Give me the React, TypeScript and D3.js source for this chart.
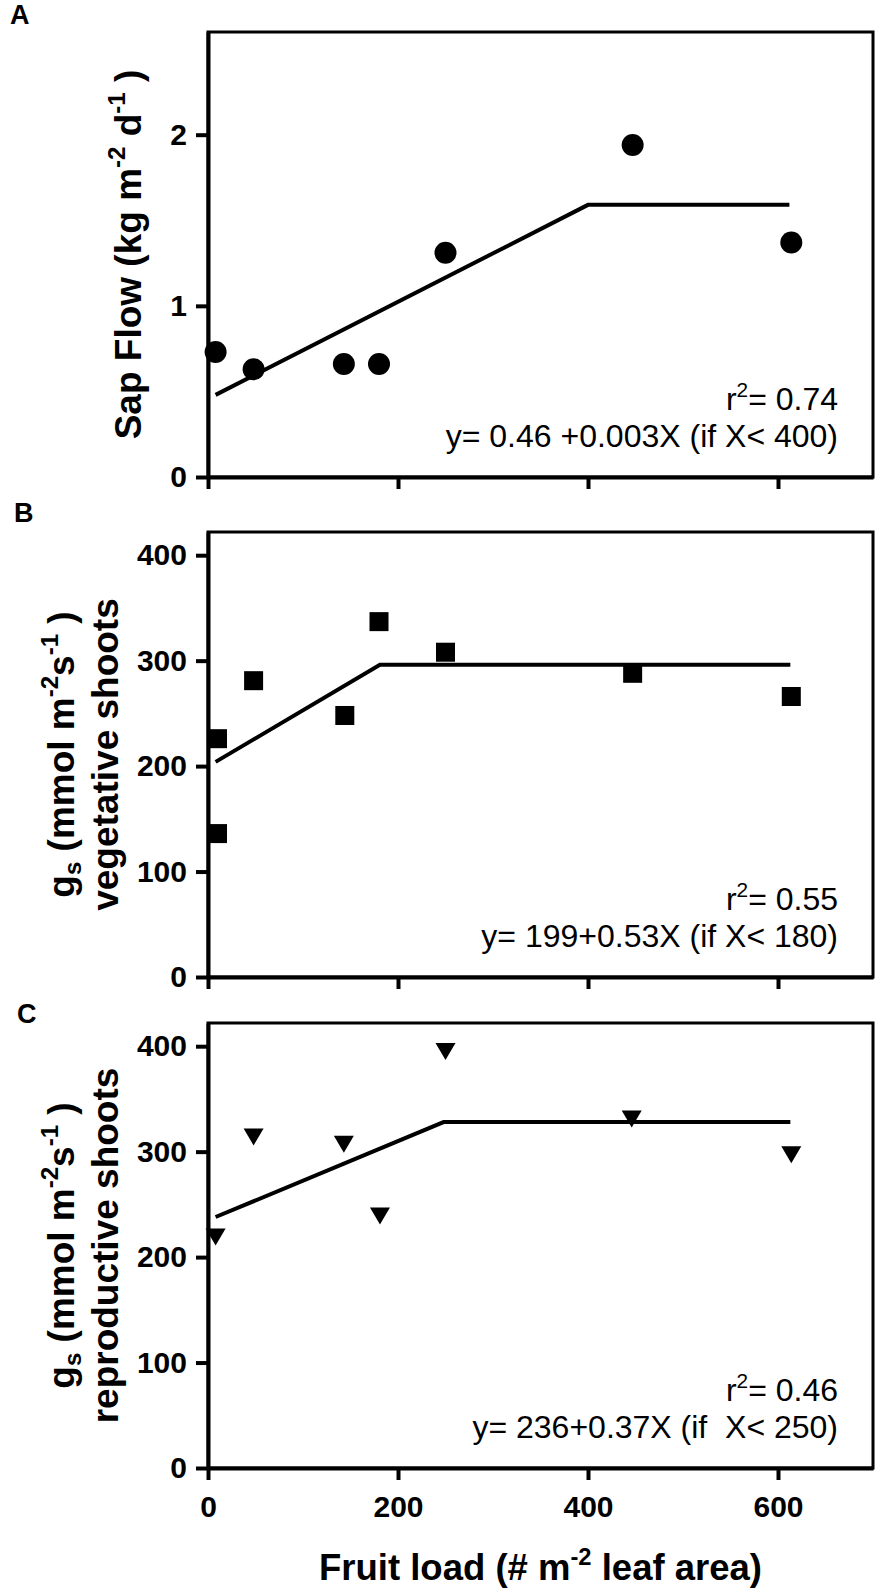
import { useEffect, useRef } from 'react';
import * as d3 from 'd3';

// Panel A: sap flow vs fruit load
const fruitLoadA = [8, 48, 143, 180, 250, 447, 614];
const sapFlow = [0.73, 0.63, 0.66, 0.66, 1.31, 1.94, 1.37];

// Panel B: gs of vegetative shoots
const fruitLoadB = [10, 10, 48, 144, 180, 250, 447, 614];
const gsVegetative = [226, 136, 281, 248, 337, 308, 288, 266];

// Panel C: gs of reproductive shoots
const fruitLoadC = [8, 48, 143, 181, 250, 446, 614];
const gsReproductive = [219, 314, 307, 239, 395, 331, 297];

// segmented fits (start, breakpoint, end)
const fitXA = [8, 400, 612];
const fitYA = [0.48, 1.59, 1.59];
const fitXB = [8, 181, 613];
const fitYB = [204, 296, 296];
const fitXC = [8, 248, 613];
const fitYC = [238, 328, 328];

const xTicks = [0, 200, 400, 600];
const sapTicks = [0, 1, 2];
const gsTicks = [0, 100, 200, 300, 400];

const r2Labels = ['0.74', '0.55', '0.46'];
const equations = [
  'y= 0.46 +0.003X (if X< 400)',
  'y= 199+0.53X (if X< 180)',
  'y= 236+0.37X (if  X< 250)',
];
const panelLetters = ['A', 'B', 'C'];

type Part = [string, number]; // 0 normal, 1 superscript, -1 subscript

const FONT = 'Liberation Sans, Arial, Helvetica, sans-serif';

function rich(sel: any, parts: Part[], size: number) {
  let shift = 0;
  parts.forEach(([t, k]) => {
    const target = k === 1 ? -size * 0.42 : k === -1 ? size * 0.2 : 0;
    sel
      .append('tspan')
      .attr('dy', target - shift)
      .attr('font-size', k ? size * 0.65 : size)
      .text(t);
    shift = target;
  });
}

const App = () => {
  const ref = useRef<SVGSVGElement>(null);

  useEffect(() => {
    const svg = d3.select(ref.current);
    svg.selectAll('*').remove();

    const left = 208;
    const right = 873;
    const x = d3.scaleLinear().domain([0, 700]).range([left, right]);

    const panels = [
      {
        top: 32, bottom: 477, yMax: 2.6, ticks: sapTicks,
        xs: fruitLoadA, ys: sapFlow, fx: fitXA, fy: fitYA, marker: 'circle',
        letterPos: [10, 24],
        title: [[['Sap Flow (kg m', 0], ['-2', 1], [' d', 0], ['-1', 1], [' )', 0]]] as Part[][],
        titleX: [141],
      },
      {
        top: 532, bottom: 977, yMax: 422, ticks: gsTicks,
        xs: fruitLoadB, ys: gsVegetative, fx: fitXB, fy: fitYB, marker: 'square',
        letterPos: [14, 522],
        title: [
          [['g', 0], ['s', -1], [' (mmol m', 0], ['-2', 1], ['s', 0], ['-1', 1], [' )', 0]],
          [['vegetative shoots', 0]],
        ] as Part[][],
        titleX: [74, 118],
      },
      {
        top: 1023, bottom: 1468, yMax: 422, ticks: gsTicks,
        xs: fruitLoadC, ys: gsReproductive, fx: fitXC, fy: fitYC, marker: 'triangle',
        letterPos: [17, 1023],
        title: [
          [['g', 0], ['s', -1], [' (mmol m', 0], ['-2', 1], ['s', 0], ['-1', 1], [' )', 0]],
          [['reproductive shoots', 0]],
        ] as Part[][],
        titleX: [74, 118],
      },
    ];

    panels.forEach((p, i) => {
      const y = d3.scaleLinear().domain([0, p.yMax]).range([p.bottom, p.top]);
      const g = svg.append('g');

      // frame (top and right sides)
      g.append('rect')
        .attr('x', left)
        .attr('y', p.top)
        .attr('width', right - left)
        .attr('height', p.bottom - p.top)
        .attr('fill', 'none')
        .attr('stroke', '#000')
        .attr('stroke-width', 3);

      // y axis
      const ya = g
        .append('g')
        .attr('transform', `translate(${left},0)`)
        .call(
          d3.axisLeft(y).tickValues(p.ticks).tickSize(12).tickSizeOuter(0).tickPadding(9).tickFormat(d3.format('d'))
        );

      // x axis
      const isLast = i === panels.length - 1;
      const xa = g
        .append('g')
        .attr('transform', `translate(0,${p.bottom})`)
        .call(
          d3
            .axisBottom(x)
            .tickValues(xTicks)
            .tickSize(12)
            .tickSizeOuter(0)
            .tickPadding(16)
            .tickFormat((d) => (isLast ? String(d) : ''))
        );

      [ya, xa].forEach((a) => {
        a.select('.domain').attr('stroke', '#000').attr('stroke-width', 4);
        a.selectAll('.tick line').attr('stroke', '#000').attr('stroke-width', 4);
        a.selectAll('.tick text')
          .attr('fill', '#000')
          .attr('font-family', FONT)
          .attr('font-size', 30)
          .attr('font-weight', 'bold');
      });

      // fitted line
      const line = d3
        .line<number>()
        .x((_, j) => x(p.fx[j]))
        .y((_, j) => y(p.fy[j]));
      g.append('path')
        .attr('d', line(p.fx))
        .attr('fill', 'none')
        .attr('stroke', '#000')
        .attr('stroke-width', 4);

      // points
      const pts = p.xs.map((v, j) => [x(v), y(p.ys[j])]);
      if (p.marker === 'circle') {
        g.selectAll('circle.pt')
          .data(pts)
          .enter()
          .append('circle')
          .attr('cx', (d) => d[0])
          .attr('cy', (d) => d[1])
          .attr('r', 11)
          .attr('fill', '#000');
      } else if (p.marker === 'square') {
        g.selectAll('rect.pt')
          .data(pts)
          .enter()
          .append('rect')
          .attr('x', (d) => d[0] - 9.5)
          .attr('y', (d) => d[1] - 9.5)
          .attr('width', 19)
          .attr('height', 19)
          .attr('fill', '#000');
      } else {
        g.selectAll('path.pt')
          .data(pts)
          .enter()
          .append('path')
          .attr('d', (d) => `M${d[0] - 10},${d[1] - 8.5}L${d[0] + 10},${d[1] - 8.5}L${d[0]},${d[1] + 8.5}Z`)
          .attr('fill', '#000');
      }

      // r2 and equation
      const rt = g
        .append('text')
        .attr('x', 838)
        .attr('y', p.bottom - 67)
        .attr('text-anchor', 'end')
        .attr('font-family', FONT)
        .attr('font-size', 32)
        .style('white-space', 'pre');
      rich(rt, [['r', 0], ['2', 1], ['= ' + r2Labels[i], 0]], 32);

      g.append('text')
        .attr('x', 838)
        .attr('y', p.bottom - 30)
        .attr('text-anchor', 'end')
        .attr('font-family', FONT)
        .attr('font-size', 32)
        .style('white-space', 'pre')
        .text(equations[i]);

      // y title
      const cy = (p.top + p.bottom) / 2;
      p.title.forEach((parts, k) => {
        const t = g
          .append('text')
          .attr('transform', `translate(${p.titleX[k]},${cy}) rotate(-90)`)
          .attr('text-anchor', 'middle')
          .attr('font-family', FONT)
          .attr('font-weight', 'bold')
          .attr('font-size', 37)
          .style('white-space', 'pre');
        rich(t, parts, 37);
      });

      // panel letter
      g.append('text')
        .attr('x', p.letterPos[0])
        .attr('y', p.letterPos[1])
        .attr('font-family', FONT)
        .attr('font-weight', 'bold')
        .attr('font-size', 27)
        .text(panelLetters[i]);
    });

    // x title
    const xt = svg
      .append('text')
      .attr('x', (left + right) / 2)
      .attr('y', 1580)
      .attr('text-anchor', 'middle')
      .attr('font-family', FONT)
      .attr('font-weight', 'bold')
      .attr('font-size', 36.5)
      .style('white-space', 'pre');
    rich(xt, [['Fruit load (# m', 0], ['-2', 1], [' leaf area)', 0]], 36.5);
  }, []);

  return (
    <svg
      ref={ref}
      width={878}
      height={1588}
      style={{ position: 'absolute', left: 0, top: 0, background: '#fff' }}
    />
  );
};

export default App;
